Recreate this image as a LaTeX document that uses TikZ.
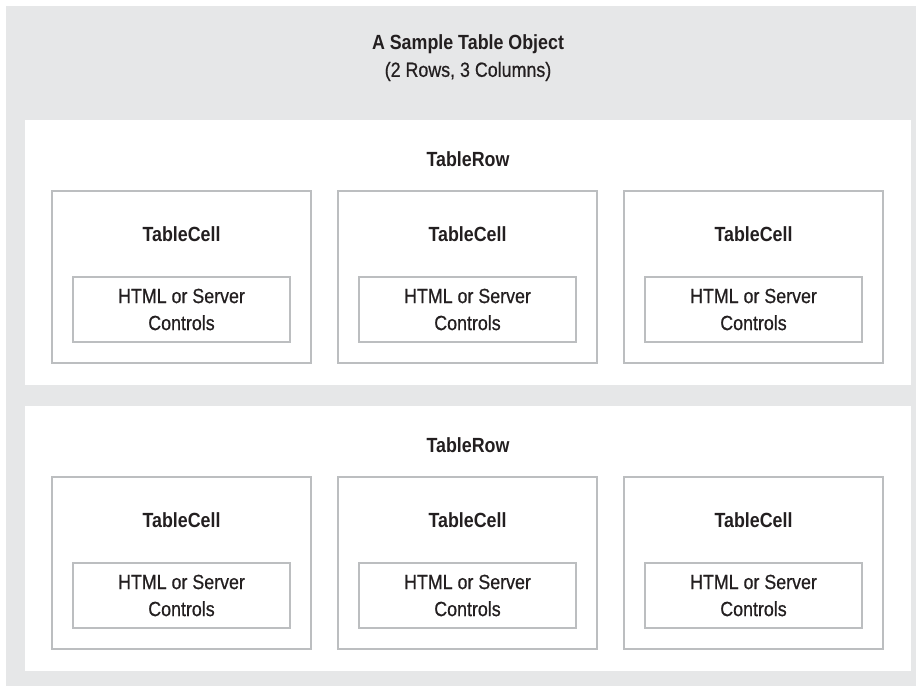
\documentclass[tikz,border=0pt]{standalone}
\usepackage{fontspec}
\setmainfont[FakeStretch=0.87,UprightFeatures={FakeBold=0.6}]{Liberation Sans}
\usepackage{xcolor}
\usepackage{tikz}
\usetikzlibrary{positioning}
\definecolor{bggray}{HTML}{E6E7E8}
\definecolor{boxgray}{HTML}{BCBEC0}
\definecolor{ink}{HTML}{231F20}

\begin{document}
\begin{tikzpicture}[x=1pt,y=-1pt,
  lab/.style={text=ink,align=center,font=\fontsize{20.5}{27}\selectfont},
  boldlab/.style={text=ink,font=\fontsize{20.5}{27}\selectfont\bfseries},
  rowbox/.style={fill=white,inner sep=0pt,minimum width=886pt,minimum height=265pt},
  cellbox/.style={draw=boxgray,line width=1.2pt,fill=white,inner sep=0pt,minimum width=259pt,minimum height=172pt},
  ctrlbox/.style={lab,draw=boxgray,line width=1.2pt,fill=white,inner sep=0pt,minimum width=217pt,minimum height=65pt}]
  \useasboundingbox (0,0) rectangle (916,686);
  \fill[bggray] (6,6) rectangle (916,686);
  \node[lab] (title) at (468,58) {{\bfseries A Sample Table Object}\\(2 Rows, 3 Columns)};
  \foreach \r/\ytop in {1/120,2/406} {
    \node[rowbox] (row\r) at (468,\ytop+132.5) {};
    \node[boldlab] (rowlab\r) at (468,\ytop+39) {TableRow};
    \foreach \c/\xc in {1/181.5,2/467.5,3/753.5} {
      \node[cellbox] (cell\r\c) at (\xc,\ytop+157) {};
      \node[boldlab] (celllab\r\c) at (\xc,\ytop+114) {TableCell};
      \node[ctrlbox] (ctrl\r\c) at (\xc,\ytop+189.5) {HTML or Server\\Controls};
    }
  }
\end{tikzpicture}
\end{document}
